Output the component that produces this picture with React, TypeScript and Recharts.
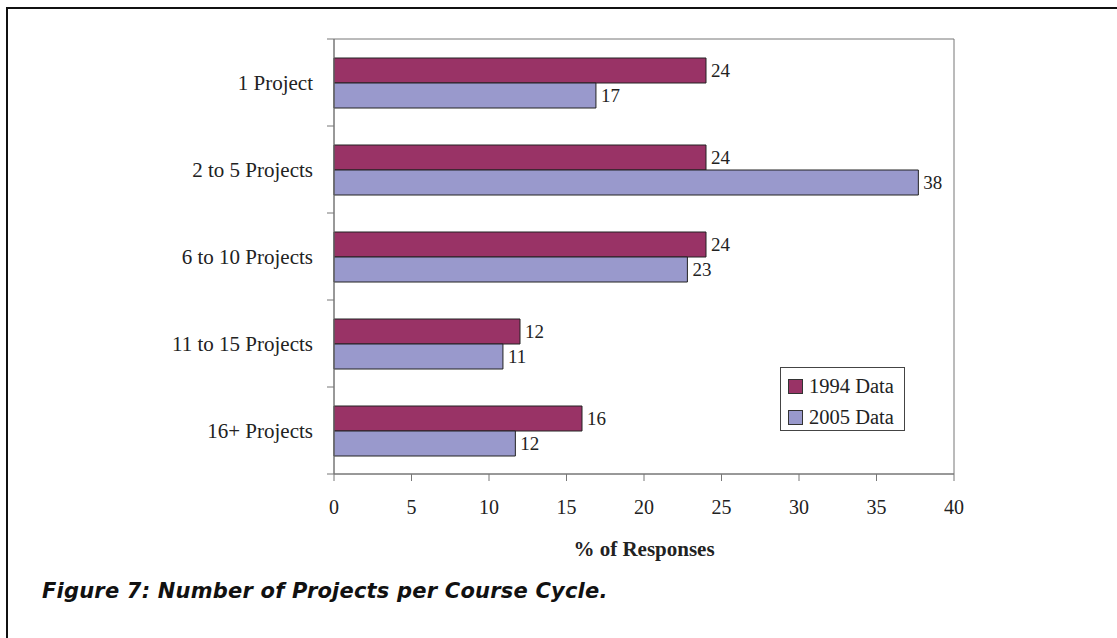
import { BarChart, Bar, XAxis, YAxis, LabelList, ReferenceArea } from 'recharts'

const categories = ['1 Project', '2 to 5 Projects', '6 to 10 Projects', '11 to 15 Projects', '16+ Projects']
const data1994 = [24, 24, 24, 12, 16]
const data2005 = [16.9, 37.7, 22.8, 10.9, 11.7]
const xTicks = [0, 5, 10, 15, 20, 25, 30, 35, 40]
const seriesNames = ['1994 Data', '2005 Data']

const data = categories.map((name, i) => ({ name, y1994: data1994[i], y2005: data2005[i] }))

const COLOR_1994 = '#993366'
const COLOR_2005 = '#9999cc'
const serif = '"Liberation Serif", "Times New Roman", serif'
const axisGray = '#777'

// category tick: label at the band centre, tick marks at the band edges
const CategoryTick = (props: any) => {
    const { x, y, payload, index, visibleTicksCount } = props
    const half = payload.offset || 0
    const last = index === visibleTicksCount - 1
    return (
        <g>
            <line x1={x + 14} x2={x + 21} y1={y - half} y2={y - half} stroke={axisGray} />
            {last && <line x1={x + 14} x2={x + 21} y1={y + half} y2={y + half} stroke={axisGray} />}
            <text x={x} y={y} dy='0.355em' textAnchor='end' fill='#222' fontFamily={serif} fontSize={21}>
                {payload.value}
            </text>
        </g>
    )
}

const LegendBox = () => (
    <div
        style={{
            position: 'absolute',
            left: 780,
            top: 367,
            border: '1px solid #444',
            background: '#fff',
            width: 125,
            height: 64,
            boxSizing: 'border-box',
            padding: '5px 0 0 7px',
            fontFamily: serif,
            fontSize: 20.5,
            color: '#222',
        }}
    >
        {seriesNames.map((label, i) => (
            <div key={label} style={{ display: 'flex', alignItems: 'center', height: 26, marginBottom: 5 }}>
                <span
                    style={{
                        display: 'inline-block',
                        width: 13,
                        height: 13,
                        background: i === 0 ? COLOR_1994 : COLOR_2005,
                        border: '1px solid #333',
                        marginRight: 6,
                    }}
                />
                {label}
            </div>
        ))}
    </div>
)

export default function App() {
    return (
        <div style={{ position: 'absolute', left: 0, top: 0, width: 1117, height: 638, background: '#fff' }}>
            <div
                style={{
                    position: 'absolute',
                    left: 6,
                    top: 7,
                    right: 0,
                    bottom: 0,
                    borderTop: '2px solid #111',
                    borderLeft: '2px solid #111',
                }}
            />
            <div style={{ position: 'absolute', left: 0, top: 0 }}>
                <BarChart
                    width={1117}
                    height={600}
                    data={data}
                    layout='vertical'
                    margin={{ top: 39, right: 163, bottom: 40, left: 0 }}
                    barSize={25}
                    barGap={0}
                >
                    <XAxis
                        type='number'
                        domain={[0, 40]}
                        ticks={xTicks}
                        interval={0}
                        tickSize={7}
                        tickMargin={19}
                        height={86}
                        stroke={axisGray}
                        tick={{ fill: '#222', fontFamily: serif, fontSize: 20 }}
                        label={{
                            value: '% of Responses',
                            position: 'insideBottom',
                            offset: 4,
                            fill: '#222',
                            fontFamily: serif,
                            fontSize: 21,
                            fontWeight: 'bold',
                        }}
                    />
                    <YAxis
                        type='category'
                        dataKey='name'
                        width={334}
                        stroke={axisGray}
                        tickLine={false}
                        tickSize={0}
                        tickMargin={21}
                        tick={<CategoryTick />}
                    />
                    <ReferenceArea x1={0} x2={40} fill='none' stroke={axisGray} />
                    <Bar dataKey='y1994' name={seriesNames[0]} fill={COLOR_1994} stroke='#222' isAnimationActive={false}>
                        <LabelList
                            dataKey='y1994'
                            position='right'
                            offset={5}
                            formatter={(v: number) => Math.round(v)}
                            fill='#222'
                            fontFamily={serif}
                            fontSize={19}
                        />
                    </Bar>
                    <Bar dataKey='y2005' name={seriesNames[1]} fill={COLOR_2005} stroke='#222' isAnimationActive={false}>
                        <LabelList
                            dataKey='y2005'
                            position='right'
                            offset={5}
                            formatter={(v: number) => Math.round(v)}
                            fill='#222'
                            fontFamily={serif}
                            fontSize={19}
                        />
                    </Bar>
                </BarChart>
            </div>
            <LegendBox />
            <div
                style={{
                    position: 'absolute',
                    left: 42,
                    top: 579,
                    fontFamily: '"DejaVu Sans", sans-serif',
                    fontWeight: 700,
                    fontStyle: 'italic',
                    fontSize: 21,
                    letterSpacing: 0.2,
                    color: '#111',
                    whiteSpace: 'nowrap',
                }}
            >
                Figure 7: Number of Projects per Course Cycle.
            </div>
        </div>
    )
}
